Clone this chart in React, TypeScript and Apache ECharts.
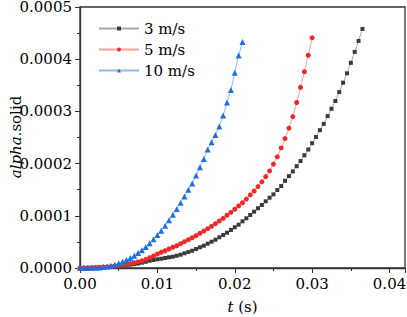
import React, { useEffect, useRef } from "react";
import * as echarts from "echarts";

const TIME_STEP = 0.0005;
const X_TICKS = [0, 0.01, 0.02, 0.03, 0.04];
const Y_TICKS = [0, 0.0001, 0.0002, 0.0003, 0.0004, 0.0005];
const SERIES_NAMES = ["3 m/s", "5 m/s", "10 m/s"];

// alpha.solid values sampled every 0.0005 s, starting at t = 0
const ALPHA_3MS = [
  0, 0.0000001, 0.0000002, 0.0000004, 0.0000006, 0.0000009, 0.0000013, 0.0000017,
  0.0000022, 0.0000028, 0.000004, 0.0000048, 0.0000056, 0.0000064, 0.0000074, 0.0000085,
  0.0000102, 0.000012, 0.000014, 0.0000153, 0.0000167, 0.0000178, 0.0000192, 0.0000205,
  0.0000217, 0.0000236, 0.0000255, 0.0000282, 0.0000307, 0.0000331, 0.0000364, 0.0000397,
  0.0000427, 0.0000466, 0.0000504, 0.0000542, 0.0000588, 0.0000632, 0.0000676, 0.0000728,
  0.000078, 0.000083, 0.0000894, 0.0000952, 0.0001015, 0.0001079, 0.0001144, 0.0001207,
  0.0001278, 0.0001347, 0.000141, 0.0001494, 0.000157, 0.000167, 0.000176, 0.000185,
  0.000195, 0.000205, 0.000216, 0.000227, 0.000239, 0.000251, 0.000264, 0.000276,
  0.000291, 0.000305, 0.00032, 0.000337, 0.000355, 0.000373, 0.000393, 0.000414,
  0.000435, 0.000458,
];

const ALPHA_5MS = [
  0, 0.0000001, 0.0000003, 0.0000005, 0.0000008, 0.0000012, 0.0000017, 0.0000023,
  0.000003, 0.0000038, 0.0000048, 0.0000059, 0.0000071, 0.0000085, 0.00001, 0.0000117,
  0.0000136, 0.0000166, 0.0000197, 0.000023, 0.0000268, 0.0000301, 0.0000331, 0.0000364,
  0.0000397, 0.0000427, 0.0000466, 0.0000504, 0.0000542, 0.000058, 0.0000619, 0.0000665,
  0.0000709, 0.0000753, 0.0000799, 0.0000849, 0.00009, 0.0000952, 0.000101, 0.0001067,
  0.0001125, 0.000119, 0.000125, 0.000132, 0.00014, 0.0001475, 0.000156, 0.000165,
  0.000175, 0.000186, 0.000199, 0.000213, 0.00023, 0.000248, 0.000268, 0.00029,
  0.000317, 0.000346, 0.000376, 0.0004075, 0.000441,
];

const ALPHA_10MS = [
  0, 0.0000001, 0.0000002, 0.0000004, 0.0000007, 0.0000011, 0.0000018, 0.0000028,
  0.0000042, 0.0000063, 0.000009, 0.000012, 0.0000153, 0.0000192, 0.0000236, 0.0000287,
  0.0000339, 0.0000402, 0.0000473, 0.000055, 0.0000632, 0.0000715, 0.000081, 0.0000914,
  0.000102, 0.000113, 0.000125, 0.000137, 0.00015, 0.000162, 0.000177, 0.000193,
  0.000209, 0.000227, 0.000241, 0.000255, 0.000271, 0.000292, 0.000317, 0.000341,
  0.000374, 0.000407, 0.000433,
];

const FONT = "DejaVu Serif";

function toPairs(vals: number[]) {
  return vals.map((v, i) => [i * TIME_STEP, v]);
}

export default function App() {
  const ref = useRef<HTMLDivElement>(null);
  useEffect(() => {
    if (!ref.current) return;
    const chart = echarts.init(ref.current, undefined, { renderer: "svg" });
    const axisColor = "#333";
    const styles = [
      { symbol: "rect", size: 4, marker: "#3a3a3a", line: "#a8a8a8" },
      { symbol: "circle", size: 5, marker: "#f02828", line: "#f6a0a0" },
      { symbol: "triangle", size: 6, marker: "#1f6fe0", line: "#8db8f0" },
    ];
    const data = [ALPHA_3MS, ALPHA_5MS, ALPHA_10MS];
    const txt = { fontFamily: FONT, fontSize: 15, color: "#000" };
    chart.setOption({
      animation: false,
      textStyle: { fontFamily: FONT },
      grid: {
        left: 80,
        right: 2,
        top: 7,
        bottom: 49,
        outerBoundsMode: "none",
        containLabel: false,
        show: true,
        borderColor: axisColor,
        borderWidth: 1.3,
      },
      graphic: [
        {
          type: "text",
          x: 16,
          y: 137,
          rotation: Math.PI / 2,
          style: {
            text: "{i|alpha}.solid",
            fontFamily: FONT,
            fontSize: 15,
            fill: "#000",
            align: "center",
            verticalAlign: "middle",
            rich: { i: { fontFamily: FONT, fontSize: 15, fontStyle: "italic", fill: "#000" } },
          },
        },
      ],
      legend: {
        orient: "vertical",
        left: 93,
        top: 16,
        itemWidth: 40,
        itemHeight: 5,
        itemGap: 6,
        textStyle: txt,
        data: SERIES_NAMES,
      },
      xAxis: {
        type: "value",
        min: 0,
        max: 0.042,
        interval: 0.01,
        name: "{i|t} (s)",
        nameLocation: "middle",
        nameGap: 31,
        nameTextStyle: { ...txt, rich: { i: { ...txt, fontStyle: "italic" } } },
        axisLine: { show: true, lineStyle: { color: axisColor, width: 1.3 } },
        axisTick: { show: true, inside: false, length: 5, lineStyle: { color: axisColor } },
        minorTick: { show: true, splitNumber: 2, length: 3, lineStyle: { color: axisColor } },
        splitLine: { show: false },
        axisLabel: {
          ...txt,
          margin: 8,
          showMaxLabel: false,
          formatter: (v: number) =>
            X_TICKS.some((t) => Math.abs(t - v) < 1e-9) ? v.toFixed(2) : "",
        },
      },
      yAxis: {
        type: "value",
        min: 0,
        max: 0.0005,
        interval: 0.0001,
        axisLine: { show: true, lineStyle: { color: axisColor, width: 1.3 } },
        axisTick: { show: true, inside: false, length: 5, lineStyle: { color: axisColor } },
        minorTick: { show: true, splitNumber: 2, length: 3, lineStyle: { color: axisColor } },
        splitLine: { show: false },
        axisLabel: {
          ...txt,
          margin: 8,
          formatter: (v: number) =>
            Y_TICKS.some((t) => Math.abs(t - v) < 1e-12) ? v.toFixed(4) : "",
        },
      },
      series: SERIES_NAMES.map((name, k) => ({
        name,
        type: "line",
        data: toPairs(data[k]),
        symbol: styles[k].symbol,
        symbolSize: styles[k].size,
        showAllSymbol: true,
        lineStyle: { color: styles[k].line, width: 1 },
        itemStyle: { color: styles[k].marker },
        emphasis: { disabled: true },
      })),
    });
    return () => chart.dispose();
  }, []);
  return <div ref={ref} style={{ width: 407, height: 317, position: "absolute", left: 0, top: 0 }} />;
}
